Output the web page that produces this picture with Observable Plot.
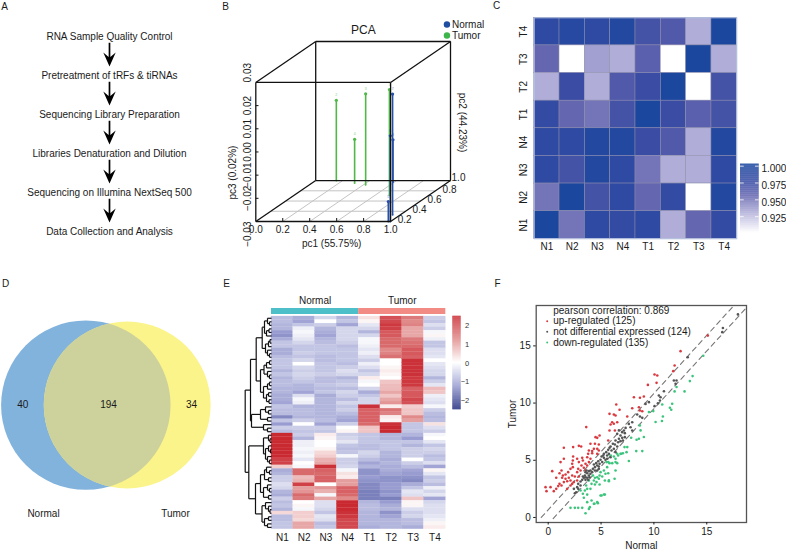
<!DOCTYPE html>
<html>
<head>
<meta charset="utf-8">
<script src="https://cdn.jsdelivr.net/npm/d3@7"></script>
<script src="https://cdn.jsdelivr.net/npm/@observablehq/plot@0.6"></script>
<style>
html,body{margin:0;padding:0;background:#fff}
#page{position:relative;width:786px;height:550px;overflow:hidden;background:#fff}
#page svg{position:absolute;left:0;top:0;background:transparent;overflow:visible;font-family:"Liberation Sans",Arial,sans-serif!important}
</style>
</head>
<body>
<div id="page"></div>
<script>
// ---------- Panel letters and panel A ----------
const panelLetters = ["A","B","C","D","E","F"];
const workflowSteps = ["RNA Sample Quality Control","Pretreatment of tRFs & tiRNAs","Sequencing Library Preparation","Libraries Denaturation and Dilution","Sequencing on Illumina NextSeq 500","Data Collection and Analysis"];

// ---------- Panel B: PCA (pc1, pc2, pc3) ----------
const pcaNormal = [[0.942,0.164,0.0221,"7"],[0.983,0,-0.0214,"5"],[0.9975,0,0.007,"6"],[0.588,0.967,-0.0118,"8"]];
const pcaTumor  = [[0.153,1,0.0046,"2"],[0.314,0.943,-0.0112,"4"],[0.415,0.9,0.0092,"3"],[0.707,0.64,0.0156,"1"]];
const pc1Ticks = [0,0.2,0.4,0.6,0.8,1];
const pc2GridAt = [0.25,0.5,0.75];
const pc2TickPos = [0,0.25,0.5,0.75];
const pc2TickText = ["0.2","0.4","0.6","0.8"];
const pc3Ticks = [-0.03,-0.02,-0.01,0,0.01,0.02,0.03];

// ---------- Panel C: correlation matrix ----------
const sampleNames = ["N1","N2","N3","N4","T1","T2","T3","T4"];
const corT4 = [.985,.99,.985,.995,.97,.965,.93,1];
const corT3 = [.955,.90,.935,.93,.96,.90,1,.93];
const corT2 = [.93,.975,.93,.965,.975,1,.90,.97];
const corT1 = [.98,.955,.95,.97,1,.975,.96,.97];
const corN4 = [.985,.985,.995,.995,.975,.965,.93,.995];
const corN3 = [.985,.97,.995,.985,.95,.93,.93,.985];
const corN2 = [.95,1,.97,.985,.955,.98,.90,.995];
const corN1 = [1,.95,.985,.98,.985,.93,.955,.98];
const corRows = {T4:corT4,T3:corT3,T2:corT2,T1:corT1,N4:corN4,N3:corN3,N2:corN2,N1:corN1};
const corTicks = [1,.975,.95,.925];

// ---------- Panel D: Venn ----------
const vennNormal = {cx:85.3,cy:84.65,r:84.7,fill:"#82b3dd"};
const vennTumor = {cx:126.7,cy:84.5,r:83.4,fill:"#fbf48a"};
const vennCounts = [{n:"40",x:22.3,y:84},{n:"194",x:108,y:84},{n:"34",x:191,y:84}];
const vennNames = [{n:"Normal",x:43,y:193.5},{n:"Tumor",x:175,y:193.5}];

// ---------- Panel E: expression heatmap (z scores, rows top to bottom) ----------
const heatRows = [
[-.8,-1,-.5,-.9,.3,1.9,1.4,-.6],[-.8,-1.1,0,-.7,.1,2,1.2,-.7],[-.9,-.7,-.6,-1.1,-.3,2.2,1.3,-.4],[-.9,-.2,-.9,-.5,-.5,2.1,.9,-.6],
[-1.2,-.1,-1,-.5,-.9,1.8,.9,-.1],[-1.3,-.2,-1.1,-.5,-.5,1.8,.9,.1],[-1,-.3,-.9,-.5,-.1,1.6,1.4,-.2],[-.7,-.5,-.8,-.6,-.1,1.6,1.5,-.7],
[-.7,-.7,-.7,-.8,-.2,1.6,1.6,-.7],[-1,-.7,-.7,-.7,-.3,1.2,1.8,-.4],[-1,-.6,-.7,-.7,-.2,1.3,1.8,-.4],[-.8,-.7,-.8,-.7,-.4,1.5,1.7,-.3],
[-.7,-.5,-.8,-.7,-.6,0,2.3,0],[-.7,0,-.7,-.8,-.2,0,2.3,-.3],[-.7,-.5,-.7,-.6,-.4,.1,2.3,-.4],[-.9,-.6,-.7,-.4,-.7,.2,2.3,-.5],
[-.7,-.5,-.6,-.5,-.5,.1,2.3,-.5],[-.9,-.6,-.8,-.9,.2,0,2.2,-.9],[-.8,-.7,-.8,-.7,-.1,.6,2.2,-.6],[-.8,-.9,-.7,-.6,0,.7,2.2,-.3],
[-.9,-.9,-.8,-.8,-.5,.7,1.7,.7],[-.9,-1.1,-.7,-.5,-1,.9,1.8,.6],[-1,-.4,-1,-.6,-.7,.6,1.8,-.2],[-1,-.1,-.9,-.8,-.5,.9,2,-.3],
[-1.1,-.2,-.9,-.5,-.5,1.1,1.9,-.4],[-.7,-.9,-.9,-.7,2.3,.2,.5,-.1],[-.8,-.8,-.9,-.6,1.7,1.5,.6,-.6],[-.8,-.8,-.9,-.8,1.7,1.3,.6,-.8],
[-1.4,-.9,-.9,-1,1.7,.2,1.2,-.9],[-.7,-.6,-.8,-1.1,1.7,.1,1,-.8],[-1.2,0,-1.1,-.6,1.6,2.3,-.7,.3],[-.6,-.6,-.6,0,.6,2.4,-.7,-.4],
[-.8,-.7,-.7,.1,.6,2.4,-.7,-.6],[2.4,-.6,.2,-.6,-.7,-.9,-.9,-.1],[2.4,-.9,.1,-.5,-.7,-.9,-1.2,0],[2.4,-.2,0,-.3,-.7,-.7,-.7,-.3],
[2.4,-.2,0,-.7,-.8,-.7,-.9,-.7],[2.4,-.1,.1,-.8,-.8,-.7,-.6,-.5],[2.4,-.2,.4,-.7,-.5,-.9,-.6,-.6],[2.4,-.1,.5,-.1,-.6,-.9,-.6,-.8],
[2.1,-.3,.8,-.6,-.8,-1,0,-.7],[2.1,0,.9,-.6,-1.1,-.9,-.6,-.4],[.5,-.1,2.3,-.5,-.9,-1,-.8,-1.1],[-1,1.6,1.7,-.1,-1.3,-1,-1.1,.1],
[-.9,1.6,1.6,.3,-1.3,-1.1,-1.2,-.3],[-.6,.7,1.7,.2,-1.2,-1.3,-1.3,-.7],[-.6,.8,1.7,1,-1.3,-1.3,-1.4,-.6],[-.4,2.1,0,1,-1.4,-1.2,-1,-.8],
[-.5,1,1.1,1.7,-1.4,-1.2,-.7,-.2],[-.9,1.1,.8,1.7,-1.5,-1.3,-.3,-.5],[-1,1.6,-.1,1.6,-1.5,-1.2,-.4,-.3],[-.6,1.4,.9,1.2,-1.5,-1.5,.6,-1.1],
[-.8,0,-.4,2.4,-.9,-1.2,.1,-.5],[-.7,.1,-.4,2.4,-.8,-1,.1,-.4],[-.9,-.1,-.5,2.4,-.8,-.9,-.4,-.4],[.4,.5,-.7,2.3,-.9,-1.3,-.6,-.4],
[-.8,.5,-.3,2.2,-.9,-1.1,-.5,-.3],[-.8,.4,-.4,2,-.9,-.9,-.8,-.2],[-.7,.9,-.8,2,-.9,-.9,-.8,.1],[-.7,.9,-.7,2,-1,-.9,-1,.2]];
const heatTicks = [2,1,0,-1,-2];
const heatGroups = [{name:"Normal",from:0,to:4,fill:"#4cbfc8"},{name:"Tumor",from:4,to:8,fill:"#f28b84"}];
// Dendrogram: [height, left, right]; 0 is a leaf
const g1 = [9.3,[7,[4,0,[2,0,0]],[5,[2.5,0,0],0]],[6,[3,[1.5,0,0],0],[4,0,[2,0,0]]]];
const g2 = [11,[7.5,[5,[2,0,0],0],[4,0,[2,0,0]]],[8,[4,[2,0,0],0],[5,[3,0,0],[2.5,0,0]]]];
const g3 = [20,[11,[6,0,[3,0,0]],[4,0,0]],[8,0,[4,0,0]]];
const g4 = [8,[3,0,[1.5,0,0]],[6,[3,0,[1,0,0]],[4,0,[2,0,0]]]];
const g5 = [11,[7,[5,0,[2,0,0]],[3,0,0]],[8,[4,0,[2,0,0]],[3,0,0]]];
const g6 = [9.5,[6,0,[3,0,[1.5,0,0]]],[7,[3,0,0],[4,0,0]]];
const dendroRoot = [26.3,[21,[15.3,g1,g2],g3],[22.7,g4,[16,g5,g6]]];

// ---------- Panel F: scatter [Normal, Tumor] ----------
const upRegulated = [[3.6,7.9],[6.05,8.33],[6.53,8.33],[5.9,8.13],[6.21,8.19],[5.8,7.6],[6.31,7.6],[4.86,7.17],[4.48,7.02],[4.64,6.96],[2.9,6.26],[2.36,6.15],[3.12,6.21],[1.48,6.09],[4,6.44],[4.42,6.44],[4.79,6.38],[5.68,6.73],[4.32,6],[3.85,5.86],[4.16,5.8],[4.64,6],[4.79,5.86],[3.78,5.56],[4.16,5.62],[3.69,5.27],[3.22,5.21],[4.64,5.56],[4,5.13],[2.74,5.13],[2.36,5.33],[2.33,4.98],[1.48,5.13],[1.17,4.84],[2.27,4.69],[2.9,4.84],[3.28,4.98],[3.53,4.69],[3.85,4.84],[2.33,4.4],[2.11,4.25],[2.84,4.25],[3.15,4.54],[3.69,4.54],[3.37,4.34],[.38,4.05],[1.26,4.11],[1.89,3.96],[1.64,3.76],[1.07,3.87],[1.39,3.67],[.76,3.47],[1.32,3.47],[1.64,3.38],[1.95,3.47],[2.27,3.67],[2.52,3.58],[2.74,3.96],[3.06,4.11],[1.48,3.09],[1.07,2.94],[1.8,3.17],[2.11,3.23],[2.27,2.94],[-.25,2.65],[.22,2.65],[-.16,2.3],[.53,2.3],[.76,2.5],[.95,2.74],[1.26,2.79],[1.8,2.5],[2.11,2.79],[2.43,3.09],[2.74,3.23],[2.9,3.58],[3.53,4.11],[12.52,14.54],[11.96,13.28],[11.83,12.79],[10.06,12.5],[10.32,12.41],[9.43,11.59],[10.25,11.77],[8.11,10.51],[9.05,10.57],[8.68,10.46],[6.44,9.87],[8.58,9.64],[7.95,9.55],[8.68,9.35],[8.9,9.29],[5.8,9.06],[6.21,9],[6.75,9.41],[6.37,8.91],[7.48,8.82],[15.1,15.9]];
const notDifferential = [[2.65,2.21],[2.43,2.5],[2.74,2.65],[3.06,2.79],[2.84,2.94],[3.06,3.15],[3.22,3.29],[3.37,3.47],[3.53,3.29],[3.69,3.47],[3.47,3.67],[3.85,3.67],[3.69,3.87],[4,3.82],[3.53,3.96],[3.85,4.05],[4.16,3.96],[4.23,4.25],[4.42,4.4],[4.64,4.11],[4.79,4.25],[4.64,4.54],[4.86,4.69],[5.11,4.84],[4.95,5.04],[5.27,5.21],[5.42,5.04],[5.58,5.42],[5.27,5.56],[5.74,5.56],[5.9,5.27],[5.99,5.86],[6.21,6],[6.37,5.71],[5.8,6.09],[6.31,6.38],[6.53,6.21],[6.84,6.67],[6.69,6.88],[7.07,6.73],[6.84,7.17],[7.25,7.02],[6.53,7.31],[3.28,3.58],[3.78,3.29],[4,4.11],[4.32,4.63],[4.54,4.75],[4.73,4.92],[5.05,5.33],[5.49,5.71],[5.68,5.91],[6.12,6.44],[6.37,6.73],[7,7.46],[6.69,7.61],[2.84,2.5],[2.52,2.12],[3.53,3.52],[3.91,3.52],[3.63,4.11],[4.42,4.11],[4.79,4.46],[5.2,5.42],[5.58,5.13],[5.9,6.21],[6.62,6.58],[7.25,7.37],[13.2,14.01],[11.89,11.97],[12.14,11.97],[12.05,11.68],[10.95,11.04],[10.47,10.66],[10.63,10.51],[10.57,10.22],[10.38,9.99],[10.06,9.73],[9.53,10.08],[9.21,9.93],[8.42,9],[8.68,8.82],[8.9,8.71],[7.95,8.33],[7.63,8.18],[7.32,7.83],[7.16,7.6],[7.79,7.89],[7.95,7.6],[7,6.96],[16.53,16.56],[16.47,16.2],[17.95,17.75]];
const downRegulated = [[6.84,5.56],[7.07,5.62],[6.62,5.42],[6.21,5.33],[6.37,4.84],[6.06,4.75],[5.8,4.75],[5.68,4.84],[5.58,4.4],[5.27,4.11],[5.68,3.87],[5.36,3.23],[5.74,3.17],[5.11,3.58],[4.86,3.67],[4.64,3.52],[4.42,3.47],[4.23,3.67],[4.32,3.23],[4.57,3.09],[4.1,2.94],[4.42,2.88],[4.86,2.88],[3.85,3.23],[3.59,2.79],[3.69,2.5],[4,2.5],[3.47,2.36],[3.06,2.36],[3.28,2.07],[3.69,2],[3.37,1.72],[4.1,1.48],[3.69,1.34],[4.64,1.34],[4.32,1.19],[5.05,1.92],[5.36,2],[3.85,.75],[3.53,.37],[2.11,.84],[2.52,.84],[2.84,.84],[3.22,.84],[5.42,3.82],[4.95,3.96],[4.79,3.38],[6.53,4.75],[13.66,12.36],[13.4,11.92],[12.9,11.02],[11.96,11.02],[12.14,11.4],[11.73,9.94],[11.51,9.59],[11.64,9.42],[10.79,9.88],[10.85,8.83],[10.76,8.43],[10.16,8.34],[9.94,9.3],[9.53,9.21],[9.05,7.03],[8.58,6.88],[8.36,6.79],[8.9,5.8],[8.33,5.8],[7.63,4.93],[7.85,6.97],[7.48,6.15],[7.41,5.71],[8.74,7.61],[8.67,8.05],[6.91,5.57],[6.53,5.57],[14.67,14.14],[7.22,6.15],[6.37,5.13],[5.9,5.42],[5.52,4.84],[6.37,4.11],[6.28,3.38],[5.74,3.24],[5.27,2.01],[4.95,1.92],[4.7,1.25],[4.38,1.2],[3.94,.9]];
const foldLineUpper = [[-.66,0],[17.57,18.53]];
const foldLineLower = [[.47,-.1],[18.67,18.25]];
const scatterTicks = [0,5,10,15];
const scatterLegend = [
  {text:"pearson correlation: 0.869",color:null},
  {text:"up-regulated (125)",color:"#d93a40"},
  {text:"not differential expressed (124)",color:"#555555"},
  {text:"down-regulated (135)",color:"#3cc47c"}];

// ---------- helpers ----------
const page = document.getElementById("page");
const TXT = "#1a1a1a";
function panel(l,t,r,b,opts){
  const svg = Plot.plot({width:786,height:550,marginLeft:l,marginTop:t,marginRight:786-r,marginBottom:550-b,
    x:{axis:null},y:{axis:null},...opts});
  page.appendChild(svg);
  return svg;
}

// ---------- Letters ----------
const letterPos = [[4,6],[225,6],[496,5],[5,283],[226,283],[497,283]];
panel(0,0,786,550,{x:{axis:null,domain:[0,786]},y:{axis:null,domain:[0,550],reverse:true},marks:[
  Plot.text(panelLetters,{x:(d,i)=>letterPos[i][0],y:(d,i)=>letterPos[i][1],text:d=>d,fontSize:10,fill:TXT})
]});

// ---------- A ----------
const bigArrow = {draw(c,l){
  const w=.85,hw=6.2,hl=14,n=9.5;
  c.moveTo(-w,0);c.lineTo(w,0);c.lineTo(w,-(l-n));c.lineTo(hw,-(l-hl));c.lineTo(0,-l);c.lineTo(-hw,-(l-hl));c.lineTo(-w,-(l-n));c.closePath();
}};
panel(0,36,218,231,{y:{axis:null,type:"point",domain:workflowSteps,padding:0,round:false},marks:[
  Plot.vector(workflowSteps.slice(0,-1),{y:d=>d,frameAnchor:"middle",anchor:"start",rotate:180,length:23.7,dy:6.3,shape:bigArrow,fill:"black",stroke:"none"}),
  Plot.text(workflowSteps,{y:d=>d,frameAnchor:"middle",text:d=>d,fontSize:10,fill:TXT})
]});

// ---------- B ----------
const kx = 60/135, ky = 0.01766;
const U = (a,b)=>a+b*kx, V=(b,c)=>c+b*ky;
const corners=[[0,0],[1,0],[1,1],[0,1]];
const boxEdges=[];
[-0.03,0.03].forEach(c=>corners.forEach((p,i)=>{const q=corners[(i+1)%4];boxEdges.push({a:[p[0],p[1],c],b:[q[0],q[1],c]})}));
corners.forEach(p=>boxEdges.push({a:[p[0],p[1],-0.03],b:[p[0],p[1],0.03]}));
const edge=(e)=>({x1:U(e.a[0],e.a[1]),y1:V(e.a[1],e.a[2]),x2:U(e.b[0],e.b[1]),y2:V(e.b[1],e.b[2])});
const pcaGrid=[
  ...pc1Ticks.slice(1,-1).map(t=>({a:[t,0,-0.03],b:[t,1,-0.03]})),
  ...pc2GridAt.map(t=>({a:[0,t,-0.03],b:[1,t,-0.03]}))].map(edge);
const pcaTickMarks=[
  ...pc3Ticks.slice(1,-1).map(t=>({a:[0,0,t],b:[0.02,0,t]})),
  ...pc1Ticks.slice(1,-1).map(t=>({a:[t,0,-0.03],b:[t,0,-0.0285]}))].map(edge);
const stems=(pts)=>pts.map(p=>({x:U(p[0],p[1]),y1:V(p[1],-0.03),y2:V(p[1],p[2]),label:p[3]}));
const stemMarks=(pts,c)=>{const s=stems(pts);return [
  Plot.ruleX(s,{x:"x",y1:"y1",y2:"y2",stroke:c,strokeWidth:1.6}),
  Plot.dot(s,{x:"x",y:"y2",r:1.6,fill:c,stroke:"none"}),
  Plot.dot(s,{x:"x",y:"y1",r:1,fill:c,stroke:"none"}),
  Plot.text(s,{x:"x",y:"y2",text:"label",dy:-5,fontSize:3.5,fill:c,opacity:.7})];};
const pcLabel=(vals,anchor,dy)=>Plot.text(vals,{x:-0.059,y:d=>d,text:d=>d.toFixed(2).replace("-","\u2212"),rotate:-90,textAnchor:anchor,dy,fontSize:10,fill:TXT});
const legendY=(d,i)=>0.03+ky+0.00733-i*0.00474;
panel(255.3,41,450,221,{x:{axis:null,domain:[0,1+kx]},y:{axis:null,domain:[-0.03,0.03+ky]},marks:[
  Plot.link(pcaGrid,{x1:"x1",y1:"y1",x2:"x2",y2:"y2",stroke:"#c4c4c4",strokeWidth:1}),
  ...stemMarks(pcaTumor,"#4fb848"),
  ...stemMarks(pcaNormal,"#2750a8"),
  Plot.link(boxEdges.map(edge),{x1:"x1",y1:"y1",x2:"x2",y2:"y2",stroke:"#111",strokeWidth:1.3}),
  Plot.link(pcaTickMarks,{x1:"x1",y1:"y1",x2:"x2",y2:"y2",stroke:"#111",strokeWidth:1}),
  Plot.text(pc1Ticks,{x:d=>U(d,0),y:-0.03,dy:8.5,text:d=>d.toFixed(1),fontSize:10,fill:TXT}),
  Plot.text(pc2TickPos,{x:d=>U(1,d),y:d=>V(d,-0.03),dx:14,dy:-1.5,text:(d,i)=>pc2TickText[i],fontSize:10,fill:TXT}),
  Plot.text([1],{x:d=>U(1,d),y:d=>V(d,-0.03),dx:8,dy:-2.5,text:d=>d.toFixed(1),fontSize:10,fill:TXT}),
  pcLabel([-0.03],"end",0),
  pcLabel(pc3Ticks.slice(1,-1),"middle",0),
  pcLabel([0.03],"start",0),
  Plot.text(["pc1 (55.75%)"],{x:U(.563,0),y:-0.03,dy:22.3,text:d=>d,fontSize:10,fill:TXT}),
  Plot.text(["pc3 (0.02%)"],{x:-0.17,y:-0.0089,text:d=>d,rotate:-90,fontSize:10,fill:TXT}),
  Plot.text(["pc2 (44.23%)"],{x:1.529,y:0.0127,text:d=>d,rotate:90,fontSize:10,fill:TXT}),
  Plot.text(["PCA"],{x:.798,y:0.03+ky,dy:-11,text:d=>d,fontSize:12,fill:TXT}),
  Plot.dot(["Normal","Tumor"],{x:1.418,y:legendY,r:3.2,fill:(d,i)=>i?"#3db54a":"#1f4ea1",stroke:"none"}),
  Plot.text(["Normal","Tumor"],{x:1.418,y:legendY,dx:5,text:d=>d,textAnchor:"start",fontSize:10,fill:TXT})
]});

// ---------- C ----------
const corCells = Object.entries(corRows).flatMap(([r,vals])=>vals.map((v,i)=>({row:r,col:sampleNames[i],v})));
const corColor = {type:"linear",domain:[.90,.93,.955,.975,1],range:["#ffffff","#b0aed8","#6566b0","#3a4ca4","#1c479f"],clamp:true};
panel(533.7,17.3,736.3,238.3,{
  x:{domain:sampleNames,padding:0,round:false,axis:null},
  y:{domain:Object.keys(corRows),padding:0,round:false,axis:null},
  color:corColor,
  marks:[
    Plot.cell(corCells,{x:"col",y:"row",fill:"v",stroke:"#8b8bab",strokeWidth:.5}),
    Plot.frame({stroke:"#b5c3e2",strokeWidth:1}),
    Plot.axisX({anchor:"bottom",tickSize:0,tickPadding:4,label:null,fontSize:10,color:TXT}),
    Plot.axisY({anchor:"left",tickSize:0,tickPadding:7,label:null,tickRotate:-90,fontSize:10,color:TXT})
  ]});
const corBar = d3.range(.9,1.0025,.001);
panel(740,164,758.7,233,{
  x:{axis:null,domain:[0,1]},
  y:{axis:null,domain:[.9,1.0025]},
  color:corColor,
  marks:[
    Plot.rect(corBar,{x1:0,x2:1,y1:d=>d,y2:d=>d+.00115,fill:d=>d}),
    Plot.ruleY(corTicks,{x1:0,x2:.2,stroke:"white",strokeWidth:.8}),
    Plot.ruleY(corTicks,{x1:.8,x2:1,stroke:"white",strokeWidth:.8}),
    Plot.text(corTicks,{x:1,y:d=>d,dx:2.2,dy:2.6,text:d=>d.toFixed(3),textAnchor:"start",fontSize:10,fill:TXT})
  ]});

// ---------- D ----------
const ring = c=>d3.range(0,360,1).map(a=>({x:c.cx+c.r*Math.cos(a*Math.PI/180),y:c.cy+c.r*Math.sin(a*Math.PI/180)}));
const inside=(p,c)=>Math.hypot(p.x-c.cx,p.y-c.cy)<=c.r;
const lensCx=(vennNormal.cx+vennTumor.cx)/2;
const lens=[...ring(vennNormal).filter(p=>inside(p,vennTumor)),...ring(vennTumor).filter(p=>inside(p,vennNormal))]
  .sort((p,q)=>Math.atan2(p.y-84.6,p.x-lensCx)-Math.atan2(q.y-84.6,q.x-lensCx));
panel(0,320,211,489.3,{x:{axis:null,domain:[0,211]},y:{axis:null,domain:[0,169.3],reverse:true},marks:[
  Plot.dot([vennNormal],{x:"cx",y:"cy",r:vennNormal.r,fill:vennNormal.fill,stroke:"none"}),
  Plot.dot([vennTumor],{x:"cx",y:"cy",r:vennTumor.r,fill:vennTumor.fill,stroke:"none"}),
  Plot.line(lens,{x:"x",y:"y",fill:"#cdd29c",stroke:"none"}),
  Plot.text(vennCounts,{x:"x",y:"y",text:"n",fontSize:10,fill:TXT}),
  Plot.text(vennNames,{x:"x",y:"y",text:"n",fontSize:10,fill:TXT})
]});

// ---------- E ----------
const heatCells = heatRows.flatMap((r,i)=>r.map((v,j)=>({row:i,col:sampleNames[j],v})));
const heatColor = {type:"linear",domain:[-2.47,-1.2,0,1.2,2.47],range:["#19247a","#989cd0","#ffffff","#e08a8a","#c8232b"],clamp:true};
panel(271,316,445.3,528.7,{
  x:{domain:sampleNames,padding:0,round:false,axis:null},
  y:{domain:d3.range(heatRows.length),padding:0,round:false,axis:null},
  color:heatColor,
  marks:[
    Plot.cell(heatCells,{x:"col",y:"row",fill:"v",stroke:"v",strokeWidth:.25}),
    Plot.axisX({anchor:"bottom",tickSize:0,tickPadding:5,label:null,fontSize:10,color:TXT})
  ]});
panel(271,308,445.3,314,{x:{axis:null,domain:[0,8]},y:{axis:null,domain:[0,1]},marks:[
  Plot.rect(heatGroups,{x1:"from",x2:"to",y1:0,y2:1,fill:d=>d.fill}),
  Plot.text(heatGroups,{x:d=>(d.from+d.to)/2,y:1,dy:-8,text:"name",fontSize:10,fill:TXT})
]});
const heatBar = d3.range(-2.47,2.47,.03);
panel(452.3,316,460.7,409.3,{x:{axis:null,domain:[0,1]},y:{axis:null,domain:[-2.47,2.47]},color:heatColor,marks:[
  Plot.rect(heatBar,{x1:0,x2:1,y1:d=>d,y2:d=>d+.034,fill:d=>d}),
  Plot.text(heatTicks,{x:1,y:d=>d,dx:8,text:d=>String(d).replace("-","\u2212"),textAnchor:"end",fontSize:7.5,fill:"#333"})
]});
const segs=[]; let leafNo=0;
function walk(n){
  if(n===0){leafNo++;return {h:0,y:leafNo-.5};}
  const a=walk(n[1]),b=walk(n[2]),h=n[0];
  segs.push({x1:h,y1:a.y,x2:h,y2:b.y},{x1:h,y1:a.y,x2:a.h,y2:a.y},{x1:h,y1:b.y,x2:b.h,y2:b.y});
  return {h,y:(a.y+b.y)/2};
}
walk(dendroRoot);
panel(244.7,316,271,528.7,{x:{axis:null,domain:[26.3,0]},y:{axis:null,domain:[0,heatRows.length],reverse:true},marks:[
  Plot.link(segs,{x1:"x1",y1:"y1",x2:"x2",y2:"y2",stroke:"#111",strokeWidth:1.2})
]});

// ---------- F ----------
const scatter=(pts,c)=>Plot.dot(pts,{x:d=>d[0],y:d=>d[1],r:1.3,fill:c,stroke:"none"});
const foldLine=pts=>Plot.line(pts,{x:d=>d[0],y:d=>d[1],stroke:"#777",strokeWidth:1.1,strokeDasharray:"5,4",clip:true});
panel(535.7,305,746,522,{x:{axis:null,domain:[-1.135,18.76]},y:{axis:null,domain:[-.44,18.53]},marks:[
  foldLine(foldLineUpper),foldLine(foldLineLower),
  scatter(upRegulated,"#d93a40"),
  scatter(downRegulated,"#3cc47c"),
  scatter(notDifferential,"#555555"),
  Plot.frame({stroke:"#555",strokeWidth:1.3}),
  Plot.axisX({anchor:"bottom",ticks:scatterTicks,tickSize:2.5,tickPadding:3,label:"Normal",labelAnchor:"center",labelArrow:"none",labelOffset:26,fontSize:10,color:TXT}),
  Plot.axisY({anchor:"left",ticks:scatterTicks,tickSize:2.5,tickPadding:3,label:"Tumor",labelAnchor:"center",labelArrow:"none",labelOffset:27,fontSize:10,color:TXT})
]});
panel(552.7,310,746,342,{y:{axis:null,type:"point",domain:scatterLegend.map(d=>d.text),padding:0,round:false},marks:[
  Plot.dot(scatterLegend.filter(d=>d.color),{y:"text",frameAnchor:"left",dx:-6,r:1,fill:d=>d.color,stroke:"none"}),
  Plot.text(scatterLegend,{y:"text",frameAnchor:"left",text:"text",textAnchor:"start",fontSize:10,fill:TXT})
]});
</script>
</body>
</html>
